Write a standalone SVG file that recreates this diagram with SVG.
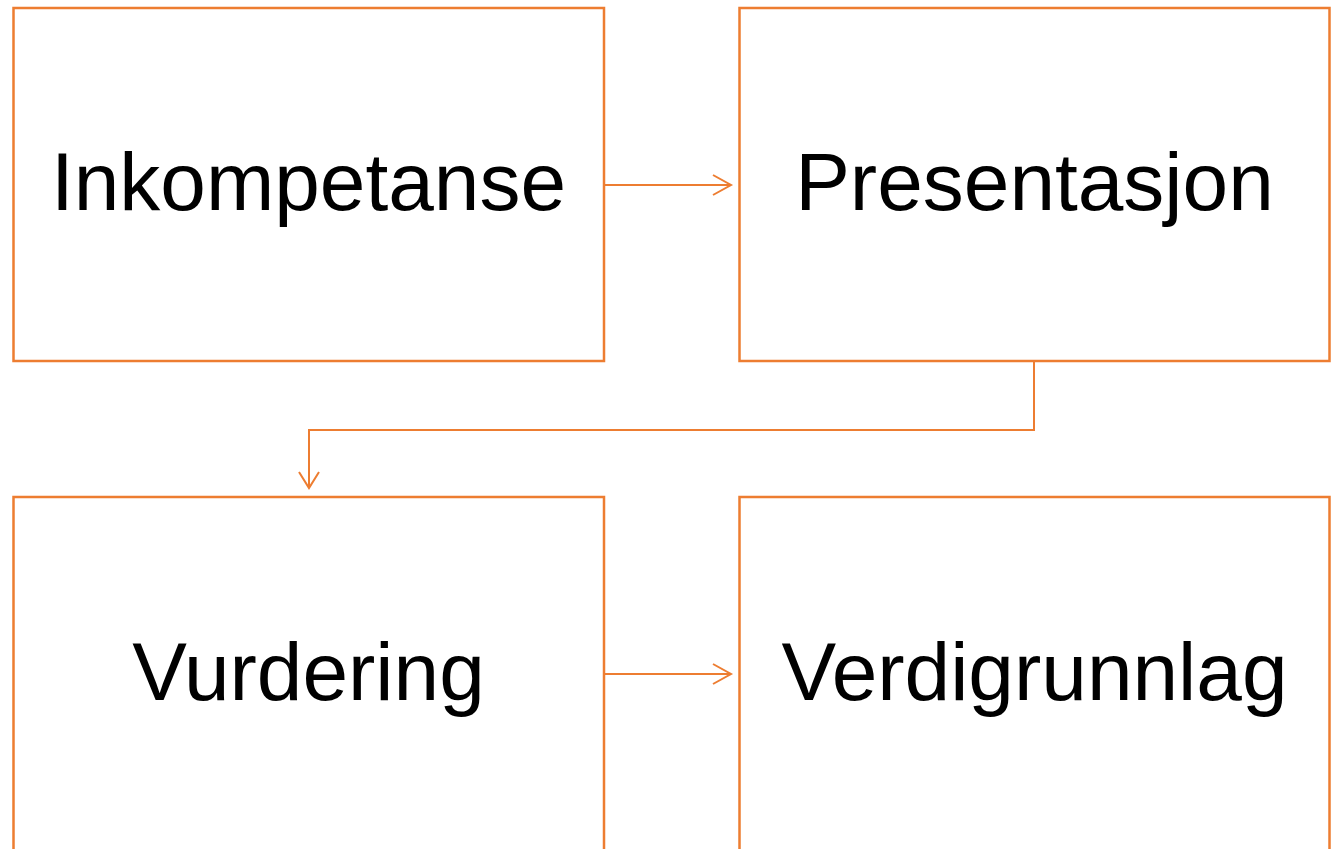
<svg xmlns="http://www.w3.org/2000/svg" width="1337" height="849" viewBox="0 0 1337 849">
<style>
.box{fill:#fff;stroke:#ED7D31;stroke-width:2.5}
.lbl{font-family:"Liberation Sans",Arial,sans-serif;font-size:82px;fill:#000;text-anchor:middle}
.con{fill:none;stroke:#ED7D31;stroke-width:2}
</style>
<rect width="1337" height="849" fill="#fff"/>
<g id="n1"><rect class="box" x="13.5" y="8" width="590.5" height="353"/><text class="lbl" x="308.5" y="210">Inkompetanse</text></g>
<g id="n2"><rect class="box" x="739.5" y="8" width="590" height="353"/><text class="lbl" x="1034.5" y="210">Presentasjon</text></g>
<g id="n3"><rect class="box" x="13.5" y="497" width="590.5" height="380"/><text class="lbl" x="308.5" y="700">Vurdering</text></g>
<g id="n4"><rect class="box" x="739.5" y="497" width="590" height="380"/><text class="lbl" x="1034.5" y="700">Verdigrunnlag</text></g>
<g id="connectors">
<path class="con" d="M604 185H731M713 175L731 185L713 195"/>
<path class="con" d="M1034 361V430H309V488M299 472L309 488L319 472"/>
<path class="con" d="M604 674H731M713 664L731 674L713 684"/>
</g>
</svg>
